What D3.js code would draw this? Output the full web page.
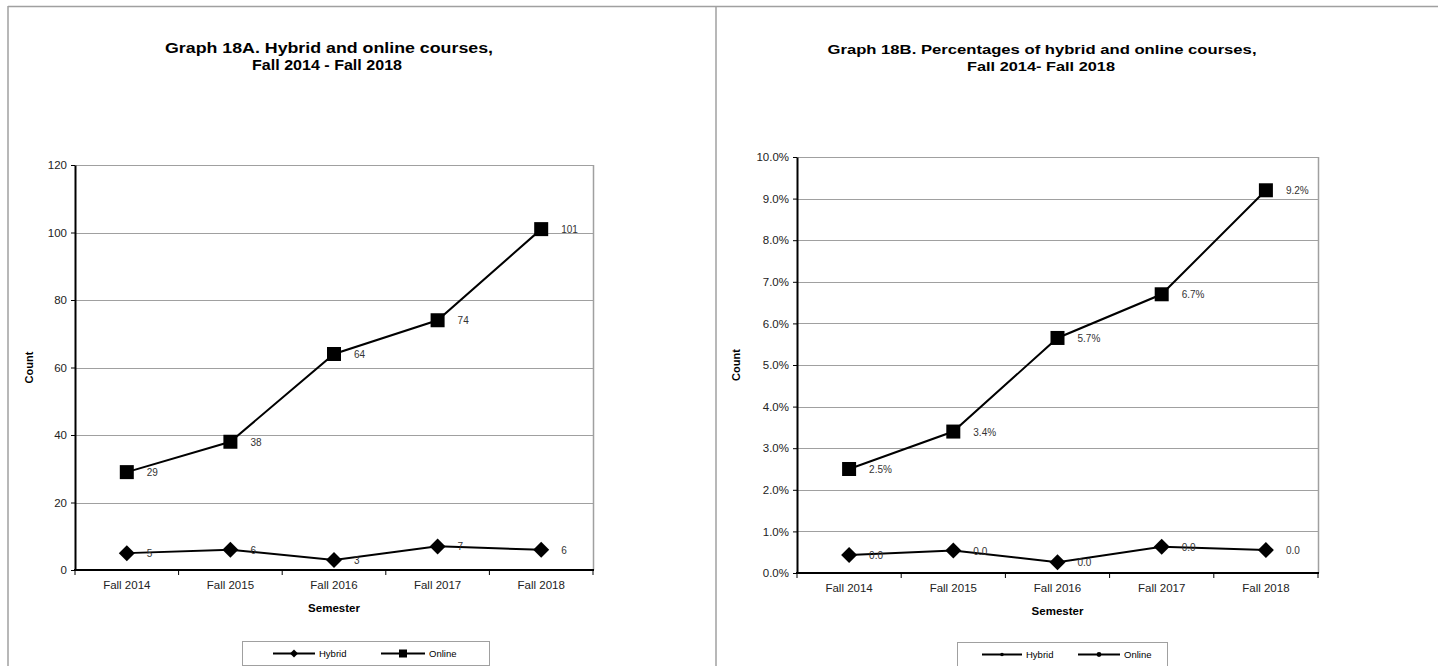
<!DOCTYPE html>
<html>
<head>
<meta charset="utf-8">
<script src="https://cdn.jsdelivr.net/npm/d3@7"></script>
<style>
  html, body { margin: 0; padding: 0; background: #fff; }
  svg { display: block; font-family: "Liberation Sans", Arial, sans-serif; }
</style>
</head>
<body>
<svg id="chart" width="1438" height="666"></svg>
<script>
// ---------- data ----------
const semesters = ["Fall 2014", "Fall 2015", "Fall 2016", "Fall 2017", "Fall 2018"];
const hybridCount = [5, 6, 3, 7, 6];
const onlineCount = [29, 38, 64, 74, 101];
const hybridPct = [0.0043, 0.0054, 0.0026, 0.0063, 0.0055];
const onlinePct = [0.025, 0.034, 0.0565, 0.067, 0.092];
const countTicks = [0, 20, 40, 60, 80, 100, 120];
const pctTicks = [0, 0.01, 0.02, 0.03, 0.04, 0.05, 0.06, 0.07, 0.08, 0.09, 0.10];
const titleA = ["Graph 18A. Hybrid and online courses,", "Fall 2014 - Fall 2018"];
const titleB = ["Graph 18B. Percentages of hybrid and online courses,", "Fall 2014- Fall 2018"];
const seriesNames = ["Hybrid", "Online"];

const svg = d3.select("#chart");
const GRID = "#a0a0a0";

// panel borders
svg.append("line").attr("x1", 8).attr("x2", 1438).attr("y1", 6.5).attr("y2", 6.5).attr("stroke", GRID).attr("stroke-width", 1.5);
svg.append("line").attr("x1", 8).attr("x2", 8).attr("y1", 6).attr("y2", 666).attr("stroke", GRID).attr("stroke-width", 1.5);
svg.append("line").attr("x1", 716).attr("x2", 716).attr("y1", 6).attr("y2", 666).attr("stroke", GRID).attr("stroke-width", 1.5);

function diamond(g, cx, cy, r) {
  g.append("path").attr("d", `M${cx},${cy - r}L${cx + r},${cy}L${cx},${cy + r}L${cx - r},${cy}Z`).attr("fill", "#000");
}
function square(g, cx, cy, s) {
  g.append("rect").attr("x", cx - s / 2).attr("y", cy - s / 2).attr("width", s).attr("height", s).attr("fill", "#000");
}

function drawChart(cfg) {
  const g = svg.append("g");
  const x = d3.scaleBand().domain(semesters).range([cfg.left, cfg.right]);
  const y = d3.scaleLinear().domain([cfg.ticks[0], cfg.ticks[cfg.ticks.length - 1]]).range([cfg.bottom, cfg.top]);

  // title
  cfg.title.forEach((t, i) => {
    g.append("text").attr("x", cfg.titleX[i]).attr("y", cfg.titleY + i * 17)
      .attr("text-anchor", "middle").attr("font-size", cfg.titleSize).attr("font-weight", "bold").attr("fill", "#000")
      .attr("textLength", cfg.titleLen[i]).attr("lengthAdjust", "spacingAndGlyphs").text(t);
  });

  // gridlines
  g.selectAll(null).data(cfg.ticks.slice(1)).join("line")
    .attr("x1", cfg.left).attr("x2", cfg.right)
    .attr("y1", d => Math.round(y(d)) + 0.5).attr("y2", d => Math.round(y(d)) + 0.5)
    .attr("stroke", GRID).attr("stroke-width", 1);
  // right border
  g.append("line").attr("x1", cfg.right + 0.5).attr("x2", cfg.right + 0.5).attr("y1", cfg.top).attr("y2", cfg.bottom)
    .attr("stroke", GRID).attr("stroke-width", 1.5);

  // y axis
  const yAxis = d3.axisLeft(y).tickValues(cfg.ticks).tickFormat(cfg.tickFmt).tickSize(4).tickSizeOuter(0);
  const ya = g.append("g").attr("transform", `translate(${cfg.left},0)`).call(yAxis);
  ya.select(".domain").attr("stroke", "#000").attr("stroke-width", 2);
  ya.selectAll(".tick line").attr("stroke", "#000");
  ya.selectAll(".tick text").attr("font-size", 11.5).attr("fill", "#222").attr("font-family", "Liberation Sans, Arial, sans-serif").attr("x", -8);

  // x axis: ticks at band boundaries
  const xa = g.append("g").attr("transform", `translate(0,${cfg.bottom})`);
  xa.append("line").attr("x1", cfg.left - 1).attr("x2", cfg.right + 1).attr("y1", 0).attr("y2", 0).attr("stroke", "#000").attr("stroke-width", 2);
  const bounds = semesters.map(s => x(s)).concat([cfg.right]);
  xa.selectAll(null).data(bounds).join("line")
    .attr("x1", d => d).attr("x2", d => d).attr("y1", 0).attr("y2", 5).attr("stroke", "#000");
  xa.selectAll(null).data(semesters).join("text")
    .attr("x", d => x(d) + x.bandwidth() / 2).attr("y", cfg.xLabelDy)
    .attr("text-anchor", "middle").attr("font-size", 11.5).attr("fill", "#222").text(d => d);

  // axis titles
  g.append("text").attr("transform", `translate(${cfg.countX},${(cfg.top + cfg.bottom) / 2}) rotate(-90)`)
    .attr("text-anchor", "middle").attr("font-size", 11).attr("font-weight", "bold").attr("fill", "#000").text("Count");
  g.append("text").attr("x", (cfg.left + cfg.right) / 2).attr("y", cfg.semY)
    .attr("text-anchor", "middle").attr("font-size", 11.5).attr("font-weight", "bold").attr("fill", "#000").text("Semester");

  const cx = d => x(d) + x.bandwidth() / 2;
  const line = d3.line().x(d => cx(d.s)).y(d => y(d.v));
  const hyb = semesters.map((s, i) => ({ s, v: cfg.hybrid[i] }));
  const onl = semesters.map((s, i) => ({ s, v: cfg.online[i] }));

  [hyb, onl].forEach(data => {
    g.append("path").datum(data).attr("d", line).attr("fill", "none").attr("stroke", "#000").attr("stroke-width", 2);
  });
  hyb.forEach(d => diamond(g, cx(d.s), y(d.v), 8));
  onl.forEach(d => square(g, cx(d.s), y(d.v), 14));

  // data labels
  g.selectAll(null).data(hyb.concat(onl)).join("text")
    .attr("x", d => cx(d.s) + 20).attr("y", d => y(d.v) + 4)
    .attr("font-size", 10).attr("fill", "#333").text((d, i) => i < 5 ? cfg.hybFmt(d.v) : cfg.onlFmt(d.v));

  // legend
  const L = cfg.legend;
  g.append("rect").attr("x", L.x + 0.5).attr("y", L.y + 0.5).attr("width", L.w).attr("height", L.h)
    .attr("fill", "#fff").attr("stroke", GRID).attr("stroke-width", 1);
  const ly = L.y + L.h / 2 + 0.5;
  L.items.forEach((it, i) => {
    g.append("line").attr("x1", it.x1).attr("x2", it.x2).attr("y1", ly).attr("y2", ly).attr("stroke", "#000").attr("stroke-width", 2);
    const mx = (it.x1 + it.x2) / 2;
    if (L.small) {
      g.append("circle").attr("cx", mx).attr("cy", ly).attr("r", i === 0 ? 1.8 : 2.4).attr("fill", "#000");
    } else if (i === 0) {
      diamond(g, mx, ly, 4);
    } else {
      square(g, mx, ly, 8);
    }
    g.append("text").attr("x", it.x2 + 4).attr("y", ly + 3.5).attr("font-size", 9.5).attr("fill", "#000").text(seriesNames[i]);
  });
}

drawChart({
  left: 75, right: 593, top: 165, bottom: 570,
  ticks: countTicks, tickFmt: d3.format("d"),
  hybrid: hybridCount, online: onlineCount,
  hybFmt: d3.format("d"), onlFmt: d3.format("d"),
  title: titleA, titleLen: [328, 150], titleX: [329, 327], titleY: 53, titleSize: 14.5,
  xLabelDy: 19, semY: 612, countX: 33,
  legend: { x: 242, y: 641, w: 247, h: 24, small: false,
            items: [{ x1: 273, x2: 315 }, { x1: 381, x2: 425 }] }
});

drawChart({
  left: 797, right: 1318, top: 157, bottom: 573,
  ticks: pctTicks, tickFmt: d3.format(".1%"),
  hybrid: hybridPct, online: onlinePct,
  hybFmt: d3.format(".1f"), onlFmt: d3.format(".1%"),
  title: titleB, titleLen: [429, 148], titleX: [1042, 1041], titleY: 54, titleSize: 13.5,
  xLabelDy: 19, semY: 615, countX: 740,
  legend: { x: 957, y: 642, w: 210, h: 24, small: true,
            items: [{ x1: 982, x2: 1022 }, { x1: 1078, x2: 1120 }] }
});
</script>
</body>
</html>
